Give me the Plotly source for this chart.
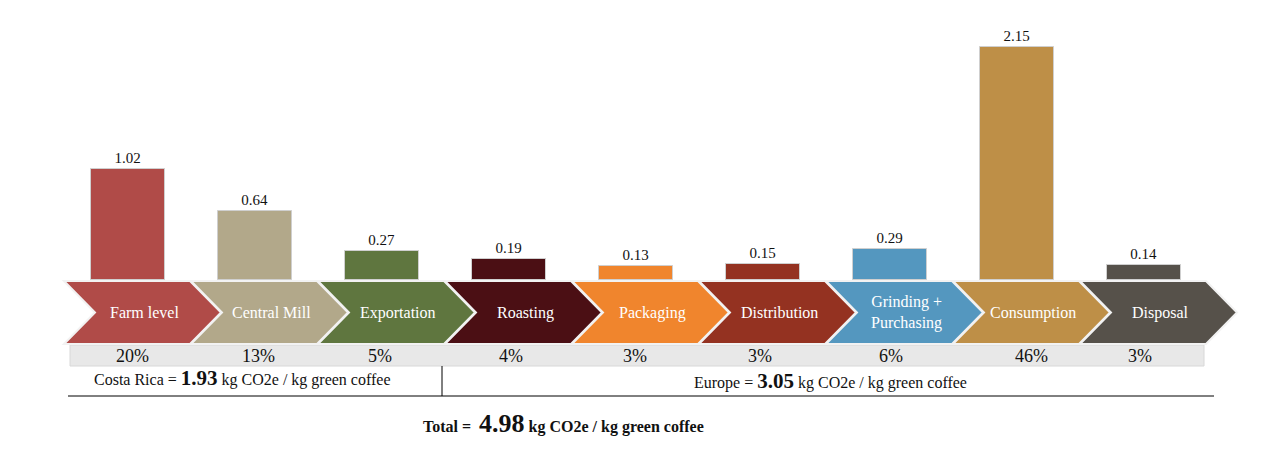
import plotly.graph_objects as go

stages = ["Farm level", "Central Mill", "Exportation", "Roasting", "Packaging",
          "Distribution", "Grinding +<br>Purchasing", "Consumption", "Disposal"]
values = [1.02, 0.64, 0.27, 0.19, 0.13, 0.15, 0.29, 2.15, 0.14]
value_labels = ["1.02", "0.64", "0.27", "0.19", "0.13", "0.15", "0.29", "2.15", "0.14"]
shares = ["20%", "13%", "5%", "4%", "3%", "3%", "6%", "46%", "3%"]
colors = ["#B04B48", "#B2A88A", "#5F763F", "#4B0F14", "#F0852D",
          "#943221", "#5497BF", "#BE8F47", "#56514A"]
costa_rica_total = "1.93"
europe_total = "3.05"
grand_total = "4.98"
unit = "kg CO2e / kg green coffee"

# small horizontal nudges (px) of the percentage labels, as in the original layout
share_nudge = [4, 3, -2, 2, -1, -3, 1, 14, -4]

OFF = 8                 # page body margin
W, H = 1278 - 2 * OFF, 458 - 2 * OFF
FONT = "Liberation Serif, Times New Roman, Times, serif"
PITCH = 127.0           # px between stage centres
X0 = 128.0 - OFF        # px of first stage centre (figure coords)


def py(p):              # page pixel-from-top -> paper y
    return (H - (p - OFF)) / H


def px(p):              # page pixel-from-left -> paper x
    return (p - OFF) / W


def dx(p):              # pixel offset -> x data units
    return p / PITCH


idx = list(range(len(stages)))
BASE = 280 - OFF        # bar baseline in figure pixels
SCALE = 108.5           # px per kg CO2e

fig = go.Figure()
fig.add_trace(go.Bar(
    x=idx, y=values, width=0.59,
    marker=dict(color=colors, line=dict(color="#CFCFCF", width=1)),
    text=value_labels, textposition="outside", cliponaxis=False,
    textfont=dict(family=FONT, size=15, color="#111111"),
    hoverinfo="skip",
))

shapes = []
shapes.append(dict(type="rect", xref="paper", yref="paper",
                   x0=px(70), x1=px(1204), y0=py(366), y1=py(345),
                   fillcolor="#E8E8E8", line=dict(color="#D8D8D8", width=1), layer="below"))
ytop, ybot, ymid = py(281), py(344), py(312.5)
for i, c in zip(idx, colors):
    xl, xn, xr, xt = i - dx(64), i - dx(33), i + dx(62), i + dx(93)
    path = (f"M {xl},{ytop} L {xr},{ytop} L {xt},{ymid} L {xr},{ybot} "
            f"L {xl},{ybot} L {xn},{ymid} Z")
    shapes.append(dict(type="path", xref="x", yref="paper", path=path,
                       fillcolor=c, line=dict(color="#F2F2F2", width=2)))
shapes.append(dict(type="line", xref="paper", yref="paper",
                   x0=px(442), x1=px(442), y0=py(366), y1=py(396),
                   line=dict(color="black", width=1)))
shapes.append(dict(type="line", xref="paper", yref="paper",
                   x0=px(68), x1=px(1214), y0=py(396), y1=py(396),
                   line=dict(color="black", width=1)))

annotations = []
for i, s in zip(idx, stages):
    annotations.append(dict(x=i + dx(16), y=ymid, xref="x", yref="paper", text=s,
                            showarrow=False, font=dict(family=FONT, size=16, color="white"),
                            xanchor="center", yanchor="middle"))
for i, s, n in zip(idx, shares, share_nudge):
    annotations.append(dict(x=i + dx(n), y=py(356), xref="x", yref="paper", text=s,
                            showarrow=False, font=dict(family=FONT, size=18, color="#111111"),
                            xanchor="center", yanchor="middle"))

annotations.append(dict(x=px(242), y=py(378), xref="paper", yref="paper",
                        text=f"Costa Rica = <b><span style='font-size:21px'>{costa_rica_total}</span></b> {unit}",
                        showarrow=False, font=dict(family=FONT, size=16, color="#111111"),
                        xanchor="center", yanchor="middle"))
annotations.append(dict(x=px(830), y=py(381), xref="paper", yref="paper",
                        text=f"Europe = <b><span style='font-size:21px'>{europe_total}</span></b> {unit}",
                        showarrow=False, font=dict(family=FONT, size=16, color="#111111"),
                        xanchor="center", yanchor="middle"))
annotations.append(dict(x=px(563), y=py(423), xref="paper", yref="paper",
                        text=f"<b>Total =  <span style='font-size:26px'>{grand_total}</span> {unit}</b>",
                        showarrow=False, font=dict(family=FONT, size=16, color="#111111"),
                        xanchor="center", yanchor="middle"))

fig.update_layout(
    width=W, height=H, autosize=False,
    margin=dict(l=0, r=0, t=0, b=0),
    paper_bgcolor="white", plot_bgcolor="rgba(0,0,0,0)",
    showlegend=False, bargap=0,
    xaxis=dict(range=[-X0 / PITCH, (W - X0) / PITCH], visible=False, fixedrange=True),
    yaxis=dict(domain=[(H - BASE) / H, 1.0], range=[0, BASE / SCALE],
               visible=False, fixedrange=True),
    shapes=shapes, annotations=annotations,
)

fig.write_html("out.html")
